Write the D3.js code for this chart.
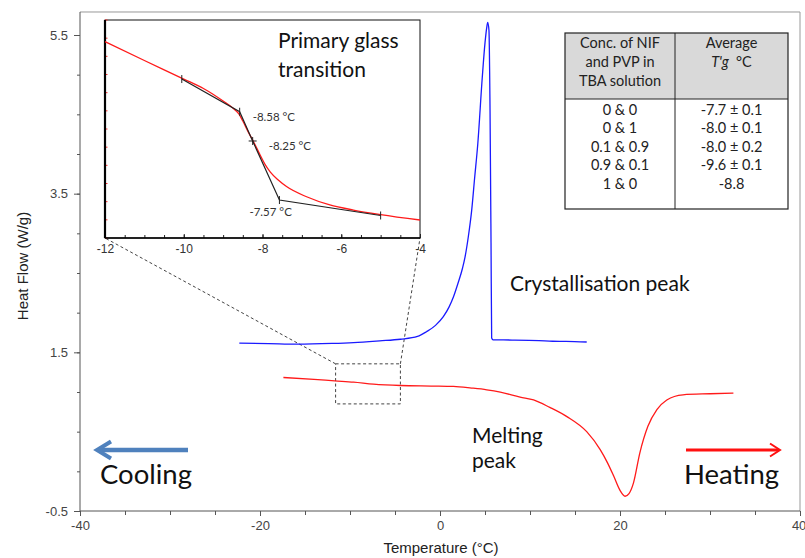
<!DOCTYPE html>
<html><head><meta charset="utf-8">
<script src="https://cdn.jsdelivr.net/npm/d3@7"></script>
<style>body{margin:0;background:#fff}svg{display:block}</style>
</head><body>
<svg id="c" width="805" height="558"></svg>
<script>
// ---------- data ----------
const tempTicks = [-40, -20, 0, 20, 40];
const heatTicks = [-0.5, 1.5, 3.5, 5.5];

// Crystallisation (cooling) trace
const crystT  = [-22.3,-19,-15.9,-12,-9.6,-6.7,-4.4,-2.5,-1.5,-0.5,0.37,1.0,1.5,2.0,2.5,2.78,3.15,3.52,3.85,4.2,4.7,5.0,5.2,5.3,5.44,5.56,5.67,5.74,5.9,8,11,12.5,14,16.3];
const crystHF = [1.616,1.610,1.603,1.612,1.623,1.645,1.665,1.70,1.76,1.84,1.95,2.07,2.20,2.37,2.56,2.70,2.96,3.29,3.70,4.13,4.97,5.40,5.60,5.66,5.56,4.55,2.88,1.68,1.657,1.655,1.648,1.640,1.638,1.630];

// Melting (heating) trace
const meltT  = [-17.4,-14,-11.7,-9.6,-7.4,-4.4,-1,1.5,3.5,5.2,6.7,8.9,10.4,12.2,14.1,16.3,17.8,18.6,19.3,20,20.56,21,21.5,22.2,23.1,24.1,25.2,27,30,32.6];
const meltHF = [1.183,1.16,1.141,1.125,1.10,1.082,1.075,1.07,1.05,1.028,0.999,0.936,0.90,0.806,0.69,0.50,0.274,0.11,-0.06,-0.24,-0.314,-0.28,-0.145,0.23,0.567,0.777,0.90,0.965,0.978,0.987];

// Inset: primary glass transition (zoom of melting trace)
const insetTicks = [-12, -10, -8, -6, -4];
const insetT  = [-12,-11,-10,-9.5,-9,-8.74,-8.6,-8.5,-8.36,-8.23,-8.06,-7.94,-7.8,-7.6,-7.39,-6.88,-6.29,-5.69,-5,-4];
const insetHF = [1.1781,1.1677,1.1575,1.1523,1.1454,1.1413,1.1383,1.1344,1.1283,1.1231,1.1157,1.1107,1.1063,1.1019,1.0983,1.0927,1.0882,1.0854,1.0829,1.0799];
const tangentT  = [-10.05,-8.58,-8.25,-7.57,-5.0];
const tangentHF = [1.1575,1.1395,1.1234,1.0909,1.0824];
const tgPointLabels = [null, "-8.58 °C", "-8.25 °C", "-7.57 °C", null];

// Table
const tableHeadLeft = ["Conc. of NIF", "and PVP in", "TBA solution"];
const concLabels = ["0 & 0", "0 & 1", "0.1 & 0.9", "0.9 & 0.1", "1 & 0"];
const tgValues   = ["-7.7 ± 0.1", "-8.0 ± 0.1", "-8.0 ± 0.2", "-9.6 ± 0.1", "-8.8"];

// ---------- drawing ----------
const svg = d3.select("#c");
const sans = "'Liberation Sans', Arial, sans-serif";
const cal = "Lato, 'Open Sans', sans-serif";

const x = d3.scaleLinear().domain([-40, 40]).range([80, 800]);
const y = d3.scaleLinear().domain([-0.5, 5.5]).range([511, 35]);
const yTop = 5.79;

// frame
svg.append("path")
  .attr("d", `M${x(-40)},${y(yTop)}H${x(40)}V${y(-0.5)}`)
  .attr("fill", "none").attr("stroke", "#999").attr("stroke-width", 1);
svg.append("line").attr("x1", x(-40)).attr("x2", x(-40)).attr("y1", y(yTop)).attr("y2", y(-0.5))
  .attr("stroke", "#555").attr("stroke-width", 1);
svg.append("line").attr("x1", x(-40)).attr("x2", x(40)).attr("y1", y(-0.5)).attr("y2", y(-0.5))
  .attr("stroke", "#555").attr("stroke-width", 1);

// y axis
const yMinor = svg.append("g").attr("transform", `translate(${x(-40)},0)`)
  .call(d3.axisLeft(y).tickValues(d3.range(0, 13).map(i => -0.5 + i * 0.5)).tickSize(3).tickFormat(""));
const yAx = svg.append("g").attr("transform", `translate(${x(-40)},0)`)
  .call(d3.axisLeft(y).tickValues(heatTicks).tickSize(6).tickPadding(6).tickFormat(d => String(d)));
[yMinor, yAx].forEach(g => {
  g.select(".domain").remove();
  g.selectAll("line").attr("stroke", "#555");
  g.selectAll("text").attr("font-family", sans).attr("font-size", 13).attr("fill", "#444");
});

// x axis
const xMinor = svg.append("g").attr("transform", `translate(0,${y(-0.5)})`)
  .call(d3.axisBottom(x).tickValues(d3.range(0, 17).map(i => -40 + i * 5)).tickSize(4).tickFormat(""));
const xAx = svg.append("g").attr("transform", `translate(0,${y(-0.5)})`)
  .call(d3.axisBottom(x).tickValues(tempTicks).tickSize(5).tickPadding(5).tickFormat(d => String(d)));
[xMinor, xAx].forEach(g => {
  g.select(".domain").remove();
  g.selectAll("line").attr("stroke", "#555");
  g.selectAll("text").attr("font-family", sans).attr("font-size", 13).attr("fill", "#444");
});
// keep the last label inside the window
xAx.selectAll("text").filter(d => d === 40).attr("text-anchor", "end").attr("dx", "0.45em");

// axis titles
svg.append("text").attr("transform", "translate(22,266) rotate(-90)")
  .attr("text-anchor", "middle").attr("dominant-baseline", "central")
  .attr("font-family", sans).attr("font-size", 15).attr("fill", "#222").text("Heat Flow (W/g)");
svg.append("text").attr("x", 441).attr("y", 553).attr("text-anchor", "middle")
  .attr("font-family", sans).attr("font-size", 15).attr("fill", "#222").text("Temperature (°C)");

// inset scales
const xi = d3.scaleLinear().domain([-12, -4]).range([105, 420]);
const yi = d3.scaleLinear().domain([1.07, 1.19]).range([238, 20]);

// dashed zoom box + connectors
const boxT = [-11.6, -4.4], boxHF = [0.85, 1.355];
const dash = svg.append("g").attr("fill", "none").attr("stroke", "#444").attr("stroke-width", 1).attr("stroke-dasharray", "3,2.5");
dash.append("rect").attr("x", x(boxT[0])).attr("y", y(boxHF[1]))
  .attr("width", x(boxT[1]) - x(boxT[0])).attr("height", y(boxHF[0]) - y(boxHF[1]));
dash.append("line").attr("x1", x(boxT[0])).attr("y1", y(boxHF[1])).attr("x2", xi(-12)).attr("y2", yi(1.07));
dash.append("line").attr("x1", x(boxT[1])).attr("y1", y(boxHF[1])).attr("x2", xi(-4)).attr("y2", yi(1.07));

// main curves
const line = d3.line().x(d => x(d[0])).y(d => y(d[1])).curve(d3.curveMonotoneX);
svg.append("path").datum(crystT.map((t, i) => [t, crystHF[i]]))
  .attr("d", line).attr("fill", "none").attr("stroke", "#1a1aff").attr("stroke-width", 1.3);
svg.append("path").datum(meltT.map((t, i) => [t, meltHF[i]]))
  .attr("d", line).attr("fill", "none").attr("stroke", "#ff1a1a").attr("stroke-width", 1.3);

// ---------- inset ----------
const ins = svg.append("g");
ins.append("rect").attr("x", xi(-12)).attr("y", yi(1.19)).attr("width", xi(-4) - xi(-12)).attr("height", yi(1.07) - yi(1.19))
  .attr("fill", "#fff").attr("stroke", "#111").attr("stroke-width", 1);
// red y ticks on the left
ins.selectAll(".rt").data(yi.ticks(12)).join("line")
  .attr("x1", xi(-12)).attr("x2", xi(-12) + 2.5).attr("y1", d => yi(d)).attr("y2", d => yi(d))
  .attr("stroke", "#ff3030").attr("stroke-width", 1);
// bottom axis
const xiMinor = ins.append("g").attr("transform", `translate(0,${yi(1.07)})`)
  .call(d3.axisBottom(xi).tickValues(d3.range(0, 17).map(i => -12 + i * 0.5)).tickSize(-3).tickFormat(""));
const xiAx = ins.append("g").attr("transform", `translate(0,${yi(1.07)})`)
  .call(d3.axisBottom(xi).tickValues(insetTicks).tickSize(-4).tickPadding(6).tickFormat(d => String(d)));
[xiMinor, xiAx].forEach(g => {
  g.select(".domain").remove();
  g.selectAll("line").attr("stroke", "#222");
  g.selectAll("text").attr("font-family", sans).attr("font-size", 12).attr("fill", "#333");
});
// thick left axis
ins.append("line").attr("x1", xi(-12)).attr("x2", xi(-12)).attr("y1", yi(1.19)).attr("y2", yi(1.07))
  .attr("stroke", "#000").attr("stroke-width", 2.2);
ins.append("line").attr("x1", xi(-12)).attr("x2", xi(-4)).attr("y1", yi(1.07)).attr("y2", yi(1.07))
  .attr("stroke", "#000").attr("stroke-width", 1.3);

const iline = d3.line().x(d => xi(d[0])).y(d => yi(d[1]));
ins.append("path").datum(insetT.map((t, i) => [t, insetHF[i]]))
  .attr("d", iline.curve(d3.curveMonotoneX)).attr("fill", "none").attr("stroke", "#ff1a1a").attr("stroke-width", 1.3);
ins.append("path").datum(tangentT.map((t, i) => [t, tangentHF[i]]))
  .attr("d", d3.line().x(d => xi(d[0])).y(d => yi(d[1]))).attr("fill", "none").attr("stroke", "#222").attr("stroke-width", 1.2);
// markers
ins.selectAll(".mk").data(tangentT.map((t, i) => [t, tangentHF[i]])).join("line")
  .attr("x1", d => xi(d[0])).attr("x2", d => xi(d[0]))
  .attr("y1", d => yi(d[1]) - 4).attr("y2", d => yi(d[1]) + 4)
  .attr("stroke", "#222").attr("stroke-width", 1);
ins.append("line").attr("x1", xi(tangentT[2]) - 4).attr("x2", xi(tangentT[2]) + 4)
  .attr("y1", yi(tangentHF[2])).attr("y2", yi(tangentHF[2])).attr("stroke", "#222").attr("stroke-width", 1);
// point labels
const lblOff = [null, [13, 9], [16, 9], [-30, 16], null];
tgPointLabels.forEach((s, i) => {
  if (!s) return;
  ins.append("text").attr("x", xi(tangentT[i]) + lblOff[i][0]).attr("y", yi(tangentHF[i]) + lblOff[i][1])
    .attr("font-family", cal).attr("font-size", 11.5).attr("fill", "#333").text(s);
});
// inset title
const it = ins.append("text").attr("font-family", cal).attr("font-size", 21).attr("fill", "#111");
it.append("tspan").attr("x", 278).attr("y", 48).text("Primary glass");
it.append("tspan").attr("x", 278).attr("y", 77).text("transition");

// ---------- table ----------
const tb = svg.append("g");
const tx0 = 565, tx1 = 675, tx2 = 788, ty0 = 33, tyH = 99, ty1 = 209;
tb.append("rect").attr("x", tx0).attr("y", ty0).attr("width", tx2 - tx0).attr("height", tyH - ty0).attr("fill", "#d9d9d9");
tb.append("rect").attr("x", tx0).attr("y", ty0).attr("width", tx2 - tx0).attr("height", ty1 - ty0)
  .attr("fill", "none").attr("stroke", "#222").attr("stroke-width", 1.2);
tb.append("line").attr("x1", tx1).attr("x2", tx1).attr("y1", ty0).attr("y2", ty1).attr("stroke", "#222");
tb.append("line").attr("x1", tx0).attr("x2", tx2).attr("y1", tyH).attr("y2", tyH).attr("stroke", "#222");
const cx1 = (tx0 + tx1) / 2, cx2 = (tx1 + tx2) / 2;
tableHeadLeft.forEach((s, i) => {
  tb.append("text").attr("x", cx1).attr("y", 48 + i * 19).attr("text-anchor", "middle")
    .attr("font-family", cal).attr("font-size", 14.5).attr("fill", "#222").text(s);
});
tb.append("text").attr("x", cx2).attr("y", 48).attr("text-anchor", "middle")
  .attr("font-family", cal).attr("font-size", 14.5).attr("fill", "#222").text("Average");
const tgh = tb.append("text").attr("x", cx2).attr("y", 67).attr("text-anchor", "middle")
  .attr("font-family", cal).attr("font-size", 14.5).attr("fill", "#222");
tgh.append("tspan").attr("font-style", "italic").text("T'g");
tgh.append("tspan").text("\u00a0 °C");
concLabels.forEach((s, i) => {
  const yy = 115 + i * 18.4;
  tb.append("text").attr("x", cx1).attr("y", yy).attr("text-anchor", "middle")
    .attr("font-family", cal).attr("font-size", 14.5).attr("fill", "#222").text(s);
  tb.append("text").attr("x", cx2).attr("y", yy).attr("text-anchor", "middle")
    .attr("font-family", cal).attr("font-size", 14.5).attr("fill", "#222").text(tgValues[i]);
});

// ---------- annotations ----------
svg.append("text").attr("x", 510).attr("y", 291).attr("font-family", cal).attr("font-size", 21).attr("fill", "#111").text("Crystallisation peak");
const mt = svg.append("text").attr("font-family", cal).attr("font-size", 21).attr("fill", "#111");
mt.append("tspan").attr("x", 472).attr("y", 443).text("Melting");
mt.append("tspan").attr("x", 472).attr("y", 468).text("peak");
svg.append("text").attr("x", 100).attr("y", 484).attr("font-family", cal).attr("font-size", 27.5).attr("fill", "#111").text("Cooling");
svg.append("text").attr("x", 684).attr("y", 484).attr("font-family", cal).attr("font-size", 27.5).attr("fill", "#111").text("Heating");

// arrows
const ca = svg.append("g").attr("fill", "none").attr("stroke", "#4f81bd").attr("stroke-linecap", "butt");
ca.append("line").attr("x1", 188).attr("x2", 98).attr("y1", 450).attr("y2", 450).attr("stroke-width", 4.5);
ca.append("path").attr("d", "M111,441.5L97,450L111,458.5").attr("stroke-width", 4).attr("stroke-linejoin", "miter");
const ha = svg.append("g").attr("fill", "none").attr("stroke", "#ff1010");
ha.append("line").attr("x1", 686).attr("x2", 779).attr("y1", 450).attr("y2", 450).attr("stroke-width", 3);
ha.append("path").attr("d", "M770,443.5L780,450L770,456.5").attr("stroke-width", 2);
</script>
</body></html>
